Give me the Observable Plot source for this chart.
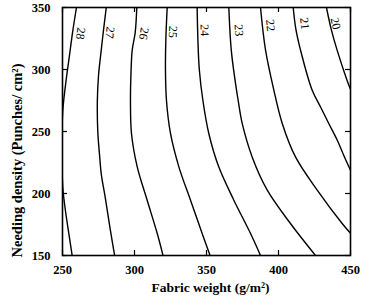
<!DOCTYPE html>
<html><head><meta charset="utf-8">
<script src="https://cdn.jsdelivr.net/npm/d3@7"></script>
<script src="https://cdn.jsdelivr.net/npm/@observablehq/plot@0.6"></script>
<style>body{margin:0;background:#fff}</style>
</head><body><div id="chart"></div>
<script>
// Contour levels and their traced lines: [fabric weight, needling density]
const levels = [28, 27, 26, 25, 24, 23, 22, 21, 20];
const c28 = [[259.7,350],[257,330],[254.4,307.5],[252.8,294],[250.2,267],[249.6,240],[250.2,205],[252,186.5],[254.4,167.7],[256.7,150]];
const c27 = [[280.4,350],[278.5,332],[276.9,315.6],[275,295],[274.2,275],[274.5,250],[275.8,230],[277,215],[279.5,198],[283.3,170],[286.2,150]];
const c26 = [[301.6,350],[300.5,330],[298.4,315.6],[297.5,295],[297.2,275],[297.9,248.4],[301.9,221.5],[308.8,194.6],[315.8,167.7],[319.8,150]];
const c25 = [[322.7,350],[321.8,325],[321.5,300],[322.2,275],[325,248.4],[330.8,221.5],[338.9,194.6],[347,167.7],[352.5,150]];
const c24 = [[343.5,350],[344,325],[345,300],[347.5,275],[351.6,248.4],[358.5,221.5],[369,194.6],[380.6,167.7],[387.5,150]];
const c23 = [[365.5,350],[367.2,315.6],[370,290],[372,275],[374.8,256.5],[381.7,229.5],[392.2,202.7],[408.3,175.8],[425.7,150]];
const c22 = [[387.5,350],[391,315.6],[396.8,283.2],[402.6,256.5],[411.8,229.5],[426.9,202.7],[444.2,175.8],[450,168]];
const c21 = [[410.2,350],[412,333],[415.3,315.6],[423.4,283.2],[429.2,269.8],[434.9,256.5],[440.8,243],[445.8,229.5],[450,218.8]];
const c20 = [[433.3,350],[436.5,333],[440.7,315.6],[447.7,291],[450,284]];
const contours = [c28, c27, c26, c25, c24, c23, c22, c21, c20];
const labelX = [262.5, 282.9, 306.5, 326.6, 348.6, 372.4, 394.4, 418.1, 439.6];
const labelY = [329, 329.8, 329, 330.3, 331.7, 331.7, 335.7, 337.1, 337.1];
const xTicks = [250, 300, 350, 400, 450];
const yTicks = [150, 200, 250, 300, 350];
const xDomain = [250, 450];
const yDomain = [150, 350];

const W = 368, H = 300, mt = 7, mr = 18, mb = 45, ml = 62;
const kx = (W - ml - mr) / (xDomain[1] - xDomain[0]);
const ky = (H - mt - mb) / (yDomain[1] - yDomain[0]);
const tick = 5; // inward tick length in px

const rows = contours.flatMap((pts, i) => pts.map(([x, y]) => ({level: levels[i], x, y})));
const labels = levels.map((lv, i) => {
  const pts = contours[i];
  let k = 0;
  while (k < pts.length - 2 && pts[k + 1][1] > labelY[i]) k++;
  const [x1, y1] = pts[k], [x2, y2] = pts[k + 1];
  const ang = Math.atan2((y1 - y2) * ky, (x2 - x1) * kx) * 180 / Math.PI;
  return {text: String(lv), x: labelX[i], y: labelY[i], rotate: ang};
});

const font = "'Liberation Serif', 'Times New Roman', serif";
const chart = Plot.plot({
  width: W, height: H,
  marginTop: mt, marginRight: mr, marginBottom: mb, marginLeft: ml,
  style: {fontFamily: font, fontWeight: "bold", fontSize: "12.5px", background: "#fff", color: "#000"},
  x: {domain: xDomain},
  y: {domain: yDomain},
  marks: [
    Plot.line(rows, {x: "x", y: "y", z: "level", stroke: "#000", strokeWidth: 1.4, clip: true, curve: "catmull-rom"}),
    Plot.text(labels, {x: "x", y: "y", text: "text", rotate: "rotate", fontSize: 12, fontWeight: "normal", fill: "#000"}),
    // inward ticks on all four sides
    Plot.ruleX(xTicks, {x: d => d, y1: yDomain[0], y2: yDomain[0] + tick / ky, stroke: "#000", strokeWidth: 1.2}),
    Plot.ruleX(xTicks, {x: d => d, y1: yDomain[1], y2: yDomain[1] - tick / ky, stroke: "#000", strokeWidth: 1.2}),
    Plot.ruleY(yTicks, {y: d => d, x1: xDomain[0], x2: xDomain[0] + tick / kx, stroke: "#000", strokeWidth: 1.2}),
    Plot.ruleY(yTicks, {y: d => d, x1: xDomain[1], x2: xDomain[1] - tick / kx, stroke: "#000", strokeWidth: 1.2}),
    Plot.axisX({anchor: "bottom", ticks: xTicks, tickSize: 0, tickPadding: 10, label: null}),
    Plot.axisY({anchor: "left", ticks: yTicks, tickSize: 0, tickPadding: 12, label: null}),
    Plot.frame({stroke: "#000", strokeWidth: 1.6}),
    Plot.text(["Fabric weight (g/m²)"], {frameAnchor: "bottom", textAnchor: "middle", lineAnchor: "middle", dx: 4, dy: 32, fontSize: 13.5, fontWeight: "bold", fill: "#000"}),
    Plot.text(["Needing density (Punches/ cm²)"], {frameAnchor: "left", textAnchor: "middle", lineAnchor: "middle", dx: -45, dy: 29, rotate: -90, fontSize: 14.5, fontWeight: "bold", fill: "#000"})
  ]
});
document.getElementById("chart").appendChild(chart);
</script>
</body></html>
